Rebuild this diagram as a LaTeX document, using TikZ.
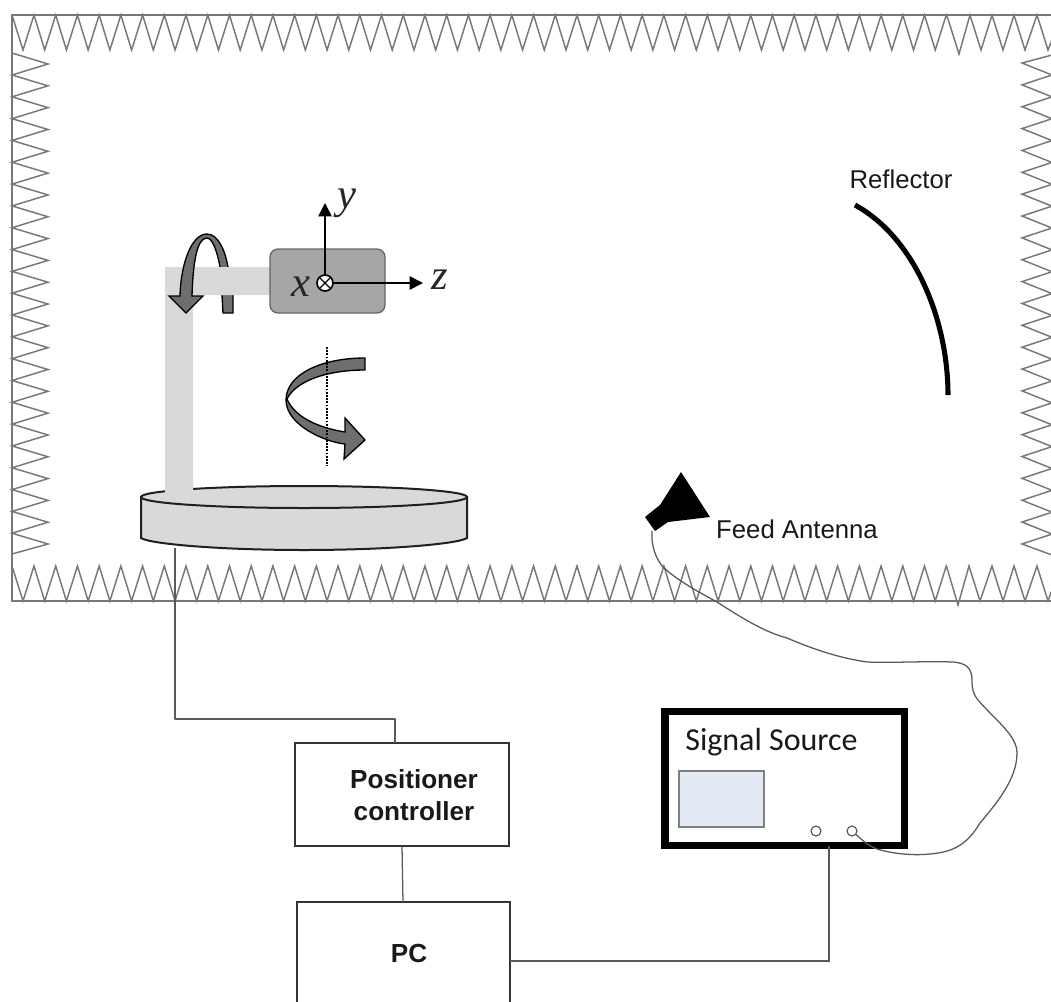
\documentclass[tikz,border=0pt]{standalone}
\usepackage{fontspec}
\setmainfont{Liberation Sans}
\newfontfamily\serifit{Liberation Serif}
\newfontfamily\carl{Carlito}
\usetikzlibrary{arrows.meta}
\definecolor{wallgray}{gray}{0.47}
\definecolor{lightfill}{HTML}{D9D9D9}
\definecolor{midfill}{HTML}{A6A6A6}
\definecolor{arrowfill}{HTML}{6E6E6E}
\definecolor{screenfill}{HTML}{E3E9F5}
\definecolor{boxline}{gray}{0.2}
\tikzset{
  wall/.style={draw=wallgray,line width=1.1pt,line join=miter},
  wallline/.style={draw=wallgray,line width=1.4pt},
  cable/.style={draw=black!65,line width=0.95pt},
  ctlbox/.style={draw=boxline,line width=1.25pt,fill=white,inner sep=0pt,outer sep=0pt,rectangle},
  solid3d/.style={draw=black!88,line width=1.5pt,fill=lightfill},
  turnarrow/.style={draw=black,line width=1pt,fill=arrowfill,line join=miter},
  axisline/.style={draw=black,line width=1.25pt,-{Triangle[length=10pt,width=10pt]}},
  lab/.style={inner sep=0pt,outer sep=0pt,font=\fontsize{19.3pt}{23pt}\selectfont,text=black!90},
  boldlab/.style={inner sep=0pt,outer sep=0pt,font=\fontsize{19.6pt}{23.6pt}\selectfont\bfseries,text=black!90,align=center},
  axlab/.style={inner sep=0pt,outer sep=0pt,font=\fontsize{32pt}{32pt}\selectfont\serifit\itshape,text=black!85}
}
\begin{document}
\begin{tikzpicture}[x=0.75pt,y=-0.75pt]
\path[use as bounding box,fill=white] (0,0) rectangle (1051,1001);
\clip (0,0) rectangle (1051,1001);

% chamber walls
\draw[wallline] (1051,15) -- (12,15) -- (12,601) -- (1051,601);
\draw[wall] (12,15)
  \foreach \k in {0,...,42}{ -- ({23+21.72*\k},50) -- ({34+21.72*\k},15) }
  -- (948,19) -- (959,54) -- (970,15) -- (981,50) -- (992,15) -- (1003,50) -- (1014,15) -- (1025,50) -- (1037,15) -- (1048,50) -- (1052,40);
\draw[wall] (12,566)
  \foreach \k in {0,...,42}{ -- ({23+21.72*\k},601) -- ({34+21.72*\k},566) }
  -- (947,568) -- (958,605) -- (969,566) -- (980,601) -- (992,566) -- (1003,601) -- (1014,566) -- (1025,601) -- (1037,566) -- (1048,601) -- (1052,590);
\draw[wall] (12,53)
  \foreach \k in {0,...,21}{ -- (48,{64+21.82*\k}) -- (12,{75+21.82*\k}) }
  -- (48,544) -- (12,554);
\draw[wall] (1052,55)
  \foreach \k in {0,...,21}{ -- (1022,{63+21.86*\k}) -- (1052,{75+21.86*\k}) }
  -- (1022,544) -- (1052,555);

% turntable
\draw[solid3d] (141,497) -- (141,538) .. controls (150,544) and (220,550) .. (304,550)
  .. controls (388,550) and (458,544) .. (467,538) -- (467,497) -- cycle;
\draw[solid3d] (304,497) ellipse [x radius=163,y radius=11];

% rear half of the roll arrow
\draw[turnarrow] (207,234) .. controls (218,234) and (225,250) .. (228,267) -- (233,295) -- (233,313) -- (223,313) -- (222,295) -- (220,267) .. controls (217,250) and (212,238) .. (207,238);

% arm and pillar
\fill[lightfill] (165,500) -- (165,267) -- (272,267) -- (272,295) -- (193,295) -- (193,500) -- cycle;

% device
\draw[draw=black!60,line width=1pt,fill=midfill,rounded corners=6pt] (270,249) rectangle (385,313);

% front half of the roll arrow
\draw[turnarrow] (207,238) .. controls (197,238) and (193,262) .. (192,296) -- (203,296) -- (186,313) -- (169,296) -- (180,296) .. controls (181,262) and (192,234) .. (207,234);

% azimuth arrow
\draw[turnarrow] (365,358) .. controls (320,358) and (286,375) .. (286,400)
  .. controls (286,425) and (325,442) .. (345,444) -- (344,459) -- (365,440) -- (345,418) -- (345,432)
  .. controls (320,428) and (295,418) .. (287,399)
  .. controls (295,382) and (325,370) .. (365,370) -- cycle;
\coordinate (axtop) at (327,347);
\coordinate (axbot) at (327,466);
\draw[black,line width=1pt,dash pattern=on 1.3pt off 1.1pt] (axtop) -- (axbot);

% axes
\node[circle,draw=black,line width=1.25pt,fill=white,minimum size=12pt,inner sep=0pt,outer sep=0pt] (org) at (325,283) {};
\coordinate (ytip) at (325,203);
\coordinate (ztip) at (423,283);
\draw[axisline] (org.north) -- (ytip);
\draw[axisline] (org.east) -- (ztip);
\draw[black,line width=1pt] (org.45) -- (org.225) (org.135) -- (org.-45);
\node[axlab] (lx) at (301,287) {x};
\node[axlab] (ly) at (347,203) {y};
\node[axlab] (lz) at (440,280) {z};

% reflector
\draw[black,line width=3.8pt] (855,205) .. controls (915,238) and (948,320) .. (948,395);
\node[lab] (refl) at (901,179) {Reflector};

% feed antenna
\fill[black] (681,472) -- (710,517) -- (668,522) -- (655,531) -- (645,517) -- (660,505) -- cycle;
\node[lab] (feed) at (797,529) {Feed Antenna};

% signal source
\node[rectangle,draw=black,line width=5.5pt,fill=white,minimum width=239.5*0.75pt,minimum height=134*0.75pt,inner sep=0pt,outer sep=0pt] (src) at (784.75,778.5) {};
\node[rectangle,draw=black!50,line width=1pt,fill=screenfill,minimum width=85*0.75pt,minimum height=56*0.75pt,inner sep=0pt,outer sep=0pt] (screen) at (721.5,799) {};
\node[circle,draw=black!70,line width=0.8pt,fill=white,minimum size=7.5pt,inner sep=0pt,outer sep=0pt] (knoba) at (816,831) {};
\node[circle,draw=black!70,line width=0.8pt,fill=white,minimum size=7.5pt,inner sep=0pt,outer sep=0pt] (knobb) at (852,831) {};
\node[inner sep=0pt,outer sep=0pt,font=\fontsize{24pt}{28pt}\selectfont\carl,text=black!90] (srclab) at (771.5,742) {Signal Source};

% controllers
\node[ctlbox,minimum width=214*0.75pt,minimum height=103*0.75pt] (pos) at (402,794.5) {};
\node[ctlbox,minimum width=213*0.75pt,minimum height=130*0.75pt] (pc) at (403.5,967) {};
\node[boldlab] (poslab) at (414,795) {Positioner\\controller};
\node[boldlab] (pclab) at (409,953) {PC};

% wiring
\coordinate (feedport) at (652,531);
\coordinate (tablefoot) at (175,548);
\coordinate (bend) at (175,719);
\coordinate (posin) at (395,719);
\coordinate (pcout) at (510,961);
\coordinate (srcin) at (829,961);
\draw[cable,line join=round] (tablefoot) -- (bend) -- (posin) -- (posin |- pos.north);
\draw[cable] (pos.south -| 402,846) -- (403,902);
\draw[cable] (pcout) -- (srcin) -- (srcin |- src.south);
\draw[cable] (feedport) .. controls (651,548) and (657,560) .. (663,567)
  .. controls (677,580) and (695,590) .. (717,602)
  .. controls (745,620) and (765,632) .. (787,638)
  .. controls (815,650) and (840,658) .. (867,662)
  .. controls (895,663) and (925,661) .. (953,662)
  .. controls (966,663) and (972,668) .. (972,680)
  .. controls (972,688) and (973,694) .. (978,700)
  .. controls (995,720) and (1017,735) .. (1017,753)
  .. controls (1017,780) and (995,805) .. (980,823)
  .. controls (968,843) and (955,852) .. (930,854)
  .. controls (910,856) and (890,853) .. (877,849)
  .. controls (868,846) and (860,838) .. (knobb);
\end{tikzpicture}
\end{document}
